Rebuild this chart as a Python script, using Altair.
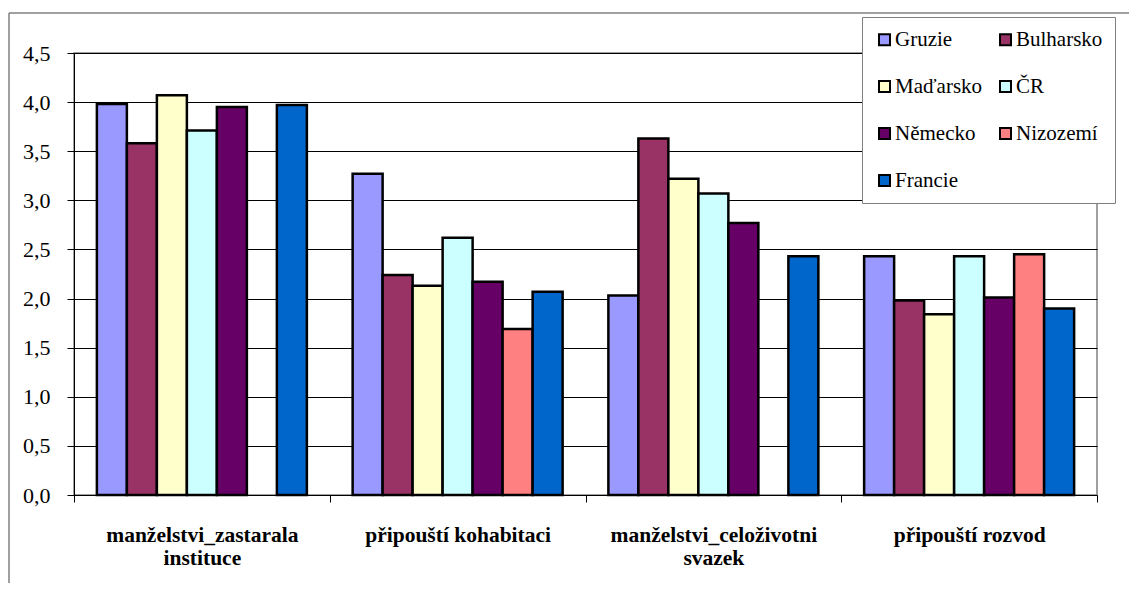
import altair as alt
import pandas as pd

categories = ["manželstvi_zastarala instituce", "připouští kohabitaci",
              "manželstvi_celoživotni svazek", "připouští rozvod"]
category_lines = [["manželstvi_zastarala", "instituce"], ["připouští kohabitaci"],
                  ["manželstvi_celoživotni", "svazek"], ["připouští rozvod"]]
countries = ["Gruzie", "Bulharsko", "Maďarsko", "ČR", "Německo", "Nizozemí", "Francie"]
colors = ["#9999FF", "#993366", "#FFFFCC", "#CCFFFF", "#660066", "#FF8080", "#0066CC"]

gruzie = [3.98, 3.27, 2.03, 2.43]
bulharsko = [3.58, 2.24, 3.63, 1.98]
madarsko = [4.07, 2.13, 3.22, 1.84]
cr = [3.71, 2.62, 3.07, 2.43]
nemecko = [3.95, 2.17, 2.77, 2.01]
nizozemi = [None, 1.69, None, 2.45]
francie = [3.97, 2.07, 2.43, 1.90]

series = [gruzie, bulharsko, madarsko, cr, nemecko, nizozemi, francie]
rows = []
for name, vals in zip(countries, series):
    for cat, v in zip(categories, vals):
        if v is not None:
            rows.append({"kategorie": cat, "zeme": name, "hodnota": v})
df = pd.DataFrame(rows)

expr = "datum.label"
for cat, lines in reversed(list(zip(categories, category_lines))):
    arr = "[" + ",".join("'" + l + "'" for l in lines) + "]"
    expr = f"datum.label == '{cat}' ? {arr} : ({expr})"

W, H = 1023, 442
SERIF = "Liberation Serif"

bars = alt.Chart(df).mark_bar(stroke="black", strokeWidth=2.5).encode(
    x=alt.X("kategorie:N", sort=categories, title=None,
            scale=alt.Scale(paddingInner=0, paddingOuter=0),
            axis=alt.Axis(labelAngle=0, tickBand="extent", tickSize=7, tickColor="black",
                          domainColor="black", labelFont=SERIF, labelFontSize=21.5,
                          labelFontWeight="bold", labelColor="black", labelPadding=22,
                          labelLineHeight=23, labelBaseline="top", labelExpr=expr,
                          grid=False, labelLimit=400)),
    xOffset=alt.XOffset("zeme:N", sort=countries,
                        scale=alt.Scale(domain=countries, paddingInner=0, paddingOuter=0.7625)),
    y=alt.Y("hodnota:Q", title=None,
            scale=alt.Scale(domain=[0, 4.5], nice=False),
            axis=alt.Axis(values=[0, 0.5, 1, 1.5, 2, 2.5, 3, 3.5, 4, 4.5],
                          labelExpr="replace(format(datum.value, '.1f'), '.', ',')",
                          tickSize=7, tickColor="black", domainColor="black",
                          gridColor="black", gridWidth=1, labelFont=SERIF,
                          labelFontSize=22, labelColor="black", labelPadding=17)),
    color=alt.Color("zeme:N", sort=countries,
                    scale=alt.Scale(domain=countries, range=colors),
                    legend=alt.Legend(orient="none", legendX=788, legendY=-36, columns=2,
                                      direction="horizontal",
                                      title=None, symbolType="square", symbolSize=121,
                                      symbolStrokeColor="black", symbolStrokeWidth=2,
                                      symbolOpacity=1, labelFont=SERIF, labelFontSize=21,
                                      labelColor="black", rowPadding=25, columnPadding=12,
                                      padding=12, strokeColor="#808080", fillColor="white",
                                      labelOffset=0, labelLimit=300)),
)

frame_df = pd.DataFrame({"a": [0]})
top_rule = alt.Chart(frame_df).mark_rule(color="#808080", strokeWidth=1.5).encode(
    x=alt.value(-65), x2=alt.value(1100), y=alt.value(-40))
left_rule = alt.Chart(frame_df).mark_rule(color="#808080", strokeWidth=1.5).encode(
    x=alt.value(-65), y=alt.value(-40), y2=alt.value(560))

chart = alt.layer(top_rule, left_rule, bars).properties(
    width=W, height=H,
    autosize=alt.AutoSizeParams(type="none"),
    padding={"left": 66, "top": 45, "right": 32, "bottom": 88},
    background="white",
).configure_view(stroke="#808080", strokeWidth=1.5)

chart.save("out.html", embed_options={"renderer": "svg", "actions": False})
